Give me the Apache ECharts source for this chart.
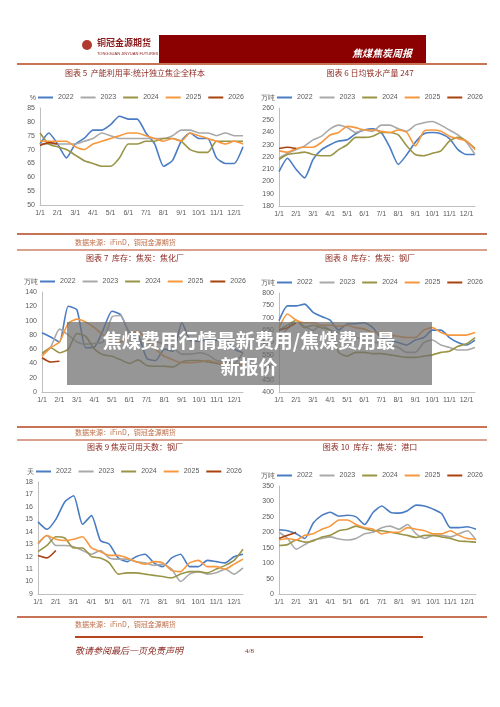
<!DOCTYPE html>
<html><head><meta charset="utf-8">
<script src="https://cdn.jsdelivr.net/npm/echarts@6/dist/echarts.min.js"></script>
<style>html,body{margin:0;padding:0;background:#fff}#c{width:500px;height:707px}</style>
</head><body><div id="c"></div>
<script>
const years = ['2022','2023','2024','2025','2026'];
const colors = ['#4A7CC4','#A9A9A9','#9A9446','#F7983F','#A8420F'];
const months = ['1/1','','2/1','','3/1','','4/1','','5/1','','6/1','','7/1','','8/1','','9/1','','10/1','','11/1','','12/1',''];

const util2022 = [72,76,72,67,72,74,77,77,79,82,81,81,76,72,64,66,73,76,74,74,67,65,65,71];
const util2023 = [72,72,72,72,72,73,74,76,75,74,74,74,74,74,74,75,77,77,76,76,75,76,75,75];
const util2024 = [76,72,71,70,68,66,65,64,64,67,72,72,73,73,74,74,73,70,69,69,73,73,73,73];
const util2025 = [73,73,73,73,71,70,72,73,74,75,76,76,75,74,73,74,73,76,75,74,73,72,73,72];
const util2026 = [71.5,72.5,72];

const iron2022 = [208,219,210,203,218,226,230,233,234,239,242,243,240,228,214,222,232,239,240,239,235,226,222,222];
const iron2023 = [219,223,226,229,234,237,243,246,244,240,242,241,246,246,243,241,246,248,249,246,242,238,232,222];
const iron2024 = [218,222,223,224,222,221,221,226,230,236,236,237,240,240,238,229,222,221,223,225,233,236,233,227];
const iron2025 = [225,224,227,228,228,232,238,240,245,244,242,242,241,240,242,240,229,241,242,241,237,235,233,226];
const iron2026 = [227,228,227];

const coke2022 = [83,77,70,120,115,62,63,87,113,108,83,80,47,44,60,57,97,72,71,73,72,73,60,55];
const coke2023 = [52,63,88,80,70,67,68,70,105,107,82,73,72,70,68,62,53,53,55,52,44,42,40,55];
const coke2024 = [54,62,55,60,82,78,60,52,50,45,40,45,37,36,36,35,42,44,44,42,40,38,38,40];
const coke2025 = [50,62,70,96,102,98,90,80,75,70,80,85,72,60,50,45,41,41,42,44,41,39,38,38];
const coke2026 = [48,42,43];

const mill2022 = [688,748,748,755,722,705,690,650,675,676,680,660,620,610,600,590,610,620,650,650,620,600,590,610];
const mill2023 = [620,655,690,665,650,670,650,640,620,620,610,600,600,590,580,560,560,600,610,590,580,570,570,580];
const mill2024 = [650,670,690,660,670,660,650,560,545,560,560,555,555,550,545,540,540,545,550,560,565,585,595,620];
const mill2025 = [660,715,690,680,680,670,670,665,670,660,655,640,640,630,625,620,620,650,660,640,630,630,630,640];
const mill2026 = [650,660,680];

const days2022 = [14.8,14.2,15,16.4,16.9,14.6,15.3,13.3,13,11.9,11.6,12,12.2,11.5,11.2,11.9,12.2,11.2,11.2,11.7,11.6,11.5,12,12.2];
const days2023 = [13,13.7,12.9,12.9,12.8,12.5,12.2,12.5,11.9,11.8,11.8,11.6,11.5,11.3,11.4,11,10,10.6,10.8,10.6,10.7,11,10.6,11.1];
const days2024 = [12.4,12.9,13.6,13.5,12.7,12.7,12,11.9,11.5,10.6,10.7,10.7,10.6,10.5,10.4,10.3,10.6,10.8,10.8,10.7,11,11.3,11.7,12.6];
const days2025 = [13.1,13.7,13.4,13.3,13.4,13.6,12.7,12.4,12.1,12.1,11.9,11.6,11.4,11.6,11.5,10.9,10.8,11.5,11.7,11.2,11.2,11,11.4,11.8];
const days2026 = [12.1,11.9,12.5];

const port2022 = [208,205,195,180,230,255,265,252,255,250,225,265,285,265,262,270,288,285,275,260,215,215,218,210];
const port2023 = [200,180,145,160,175,180,185,178,175,180,195,200,215,220,210,225,195,180,190,190,185,195,205,175];
const port2024 = [157,160,175,168,172,185,190,205,210,220,212,205,205,200,195,190,183,190,190,185,180,172,170,168];
const port2025 = [175,180,175,190,195,210,220,240,240,225,215,210,195,200,200,215,210,205,195,195,205,190,180,178];
const port2026 = [180,190,200];

const charts = [
 {g:{left:40,top:108,width:203,height:97}, min:50,max:85,iv:5,unit:'%',data:[util2022,util2023,util2024,util2025,util2026]},
 {g:{left:279,top:108,width:196,height:98}, min:180,max:260,iv:10,unit:'万吨',data:[iron2022,iron2023,iron2024,iron2025,iron2026]},
 {g:{left:42,top:292,width:201,height:100}, min:0,max:140,iv:20,unit:'万吨',data:[coke2022,coke2023,coke2024,coke2025,coke2026]},
 {g:{left:279,top:293,width:196,height:99}, min:400,max:800,iv:50,unit:'万吨',data:[mill2022,mill2023,mill2024,mill2025,mill2026]},
 {g:{left:38,top:482,width:205,height:112}, min:9,max:18,iv:1,unit:'天',data:[days2022,days2023,days2024,days2025,days2026]},
 {g:{left:279,top:486,width:197,height:108}, min:0,max:350,iv:50,unit:'万吨',data:[port2022,port2023,port2024,port2025,port2026]}
];
const titles = [['图表 5  产能利用率:统计独立焦企全样本',135,73],['图表 6 日均铁水产量 247',370,73],
 ['图表 7  库存：焦炭：焦化厂',135,258],['图表 8  库存：焦炭：钢厂',370,258],
 ['图表 9 焦炭可用天数：钢厂',135,447],['图表 10  库存：焦炭：港口',370,447]];
const red='#8E2A22', rule='#B5461E';
const grid=[],xAxis=[],yAxis=[],series=[],legend=[];
charts.forEach((c,i)=>{
  grid.push(c.g);
  xAxis.push({type:'category',gridIndex:i,data:months,boundaryGap:false,
    axisLine:{lineStyle:{color:'#BFBFBF'}},axisTick:{show:false},
    axisLabel:{interval:0,fontSize:7,color:'#595959',margin:5,showMaxLabel:true}});
  yAxis.push({type:'value',gridIndex:i,min:c.min,max:c.max,interval:c.iv,name:c.unit,
    nameGap:6,nameTextStyle:{fontSize:7,color:'#595959',align:'right',padding:[0,4,0,0]},
    axisLine:{show:true,lineStyle:{color:'#BFBFBF'}},axisTick:{show:false},splitLine:{show:false},
    axisLabel:{fontSize:7,color:'#595959',margin:5}});
  legend.push({left:c.g.left-2,top:c.g.top-14,width:240,orient:'horizontal',itemWidth:15,itemHeight:2,itemGap:7,
    icon:'rect',padding:0,textStyle:{fontSize:7,color:'#595959'},data:years});
  c.data.forEach((d,k)=>series.push({type:'line',name:years[k],xAxisIndex:i,yAxisIndex:i,data:d,
    symbol:'none',smooth:0.2,lineStyle:{width:1.6,color:colors[k]},itemStyle:{color:colors[k]},z:k===4?5:2}));
});
const gr=[];
const hl=(x1,x2,y,w,c)=>gr.push({type:'line',shape:{x1,y1:y,x2,y2:y},style:{stroke:c||rule,lineWidth:w||1.5}});
gr.push({type:'rect',shape:{x:159,y:35,width:267,height:28},style:{fill:'#8B0000'}});
gr.push({type:'text',left:352,top:48,style:{text:'焦煤焦炭周报',fill:'#fff',font:'italic bold 10px "Noto Sans CJK SC"'}});
gr.push({type:'text',left:97,top:38,style:{text:'铜冠金源期货',fill:'#8B1A1A',font:'bold 9px "Noto Sans CJK SC"'}});
gr.push({type:'text',left:97,top:52,style:{text:'TONGGUAN JINYUAN FUTURES',fill:'#8B1A1A',font:'4px sans-serif'}});
gr.push({type:'circle',shape:{cx:87,cy:45,r:5},style:{fill:'#B03A2E'}});
hl(17,487,64,1.5);
titles.forEach(t=>gr.push({type:'text',x:t[1],y:t[2],style:{text:t[0],fill:red,font:'8px "Noto Sans CJK SC"',align:'center',verticalAlign:'middle'}}));
[[234,242],[427,432],[617,624]].forEach(p=>{hl(17,487,p[0],1.5);
  gr.push({type:'text',x:75,y:p[1],style:{text:'数据来源：iFinD，铜冠金源期货',fill:'#C0704A',font:'7px "Noto Sans CJK SC"',verticalAlign:'middle'}});});
hl(17,487,250,1.2);hl(17,487,440,1.2);
hl(75,423,637,2);
gr.push({type:'text',x:75,y:651,style:{text:'敬请参阅最后一页免责声明',fill:'#8B2A22',font:'italic 9px "Noto Sans CJK SC"',verticalAlign:'middle'}});
gr.push({type:'text',x:245,y:651,style:{text:'4/8',fill:'#8B2A22',font:'7px serif',verticalAlign:'middle'}});
gr.push({type:'rect',shape:{x:67,y:322,width:365,height:63},style:{fill:'rgba(110,110,110,0.72)'},z:100});
gr.push({type:'text',x:249,y:341,z:101,style:{text:'焦煤费用行情最新费用/焦煤费用最',fill:'#fff',font:'bold 19px "Noto Sans CJK SC"',align:'center',verticalAlign:'middle'}});
gr.push({type:'text',x:249,y:367,z:101,style:{text:'新报价',fill:'#fff',font:'bold 19px "Noto Sans CJK SC"',align:'center',verticalAlign:'middle'}});
const ch=echarts.init(document.getElementById('c'));
ch.setOption({animation:false,backgroundColor:'#fff',grid,xAxis,yAxis,series,legend,graphic:gr});
</script></body></html>
